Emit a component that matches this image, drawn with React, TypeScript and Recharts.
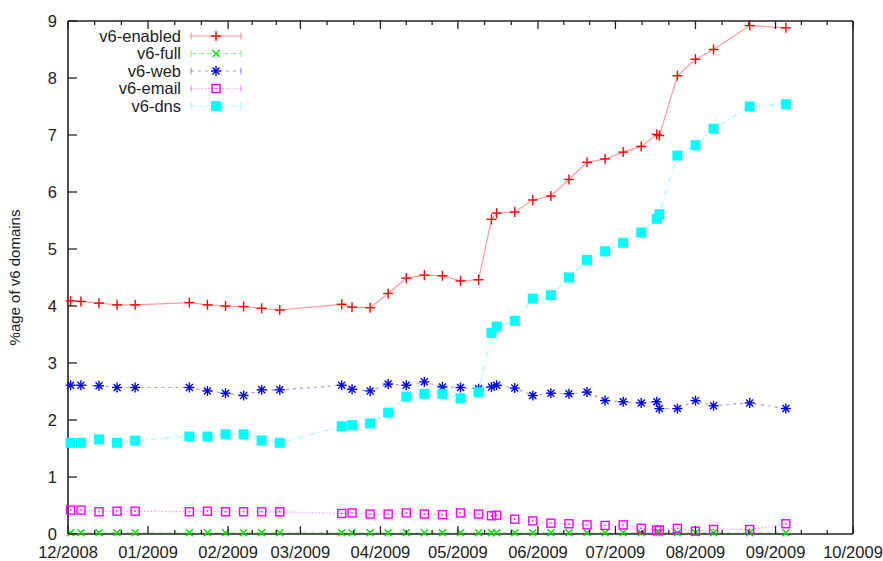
import React from 'react';
import { LineChart, Line, XAxis, YAxis } from 'recharts';

// sample dates (one point per crawl)
const dates = [
  '2008-12-02', '2008-12-06', '2008-12-13', '2008-12-20', '2008-12-27',
  '2009-01-17', '2009-01-24', '2009-01-31', '2009-02-07', '2009-02-14', '2009-02-21',
  '2009-03-17', '2009-03-21', '2009-03-28', '2009-04-04', '2009-04-11', '2009-04-18', '2009-04-25',
  '2009-05-02', '2009-05-09', '2009-05-14', '2009-05-16', '2009-05-23', '2009-05-30',
  '2009-06-06', '2009-06-13', '2009-06-20', '2009-06-27',
  '2009-07-04', '2009-07-11', '2009-07-17', '2009-07-18', '2009-07-25',
  '2009-08-01', '2009-08-08', '2009-08-22', '2009-09-05',
];

const v6Enabled = [
  4.09, 4.08, 4.05, 4.02, 4.02, 4.06, 4.02, 4.0, 3.99, 3.96, 3.93,
  4.03, 3.98, 3.97, 4.22, 4.49, 4.54, 4.53, 4.44, 4.46, 5.52, 5.63, 5.65, 5.86,
  5.93, 6.22, 6.52, 6.58, 6.7, 6.8, 7.01, 6.99, 8.04, 8.33, 8.5, 8.92, 8.88,
];
const v6Full = [
  0.02, 0.02, 0.02, 0.02, 0.02, 0.02, 0.02, 0.02, 0.02, 0.02, 0.02,
  0.02, 0.02, 0.02, 0.02, 0.02, 0.02, 0.02, 0.02, 0.02, 0.02, 0.02, 0.02, 0.02,
  0.02, 0.02, 0.02, 0.02, 0.02, 0.02, 0.02, 0.02, 0.02, 0.02, 0.02, 0.02, 0.02,
];
const v6Web = [
  2.61, 2.61, 2.6, 2.57, 2.57, 2.57, 2.51, 2.47, 2.43, 2.53, 2.53,
  2.61, 2.54, 2.51, 2.63, 2.61, 2.67, 2.58, 2.57, 2.55, 2.58, 2.61, 2.56, 2.43,
  2.47, 2.46, 2.49, 2.34, 2.32, 2.3, 2.32, 2.2, 2.2, 2.34, 2.25, 2.3, 2.2,
];
const v6Email = [
  0.42, 0.42, 0.39, 0.4, 0.4, 0.39, 0.4, 0.39, 0.39, 0.39, 0.39,
  0.36, 0.37, 0.35, 0.35, 0.37, 0.35, 0.34, 0.37, 0.35, 0.32, 0.33, 0.26, 0.23,
  0.19, 0.18, 0.16, 0.15, 0.16, 0.1, 0.07, 0.07, 0.1, 0.05, 0.08, 0.08, 0.18,
];
const v6Dns = [
  1.6, 1.6, 1.66, 1.6, 1.64, 1.71, 1.71, 1.75, 1.75, 1.64, 1.6,
  1.89, 1.91, 1.94, 2.13, 2.41, 2.46, 2.46, 2.38, 2.49, 3.53, 3.64, 3.74, 4.13,
  4.19, 4.5, 4.81, 4.96, 5.11, 5.29, 5.53, 5.61, 6.64, 6.82, 7.11, 7.5, 7.54,
];

const monthTicks = [
  '2008-12-01', '2009-01-01', '2009-02-01', '2009-03-01', '2009-04-01', '2009-05-01',
  '2009-06-01', '2009-07-01', '2009-08-01', '2009-09-01', '2009-10-01',
];
const yTicks = [0, 1, 2, 3, 4, 5, 6, 7, 8, 9];

const ts = (d: string) => Date.parse(d + 'T00:00:00Z');

const data = dates.map((d, i) => ({
  t: ts(d),
  enabled: v6Enabled[i],
  full: v6Full[i],
  web: v6Web[i],
  email: v6Email[i],
  dns: v6Dns[i],
}));

const majors = monthTicks.map(ts);
const xTicks: number[] = [];
majors.forEach((m, i) => {
  xTicks.push(m);
  if (i < majors.length - 1) {
    const step = (majors[i + 1] - m) / 3;
    xTicks.push(m + step, m + 2 * step);
  }
});

const INK = '#222';
const FONT = '"Liberation Sans", Arial, sans-serif';

const fmtMonth = (v: number) => {
  const d = new Date(v);
  const mm = String(d.getUTCMonth() + 1).padStart(2, '0');
  return `${mm}/${d.getUTCFullYear()}`;
};

type Kind = 'plus' | 'cross' | 'star' | 'box' | 'fbox';

function Marker({ cx, cy, kind, color }: { cx: number; cy: number; kind: Kind; color: string }) {
  if (cx == null || cy == null) return null;
  const w = 1.4;
  if (kind === 'plus') {
    return (
      <g stroke={color} strokeWidth={w}>
        <line x1={cx - 5} x2={cx + 5} y1={cy} y2={cy} />
        <line x1={cx} x2={cx} y1={cy - 5} y2={cy + 5} />
      </g>
    );
  }
  if (kind === 'cross') {
    return (
      <g stroke={color} strokeWidth={w}>
        <line x1={cx - 3.5} x2={cx + 3.5} y1={cy - 3.5} y2={cy + 3.5} />
        <line x1={cx - 3.5} x2={cx + 3.5} y1={cy + 3.5} y2={cy - 3.5} />
      </g>
    );
  }
  if (kind === 'star') {
    return (
      <g stroke={color} strokeWidth={w}>
        <line x1={cx - 5} x2={cx + 5} y1={cy} y2={cy} />
        <line x1={cx} x2={cx} y1={cy - 5} y2={cy + 5} />
        <line x1={cx - 3.5} x2={cx + 3.5} y1={cy - 3.5} y2={cy + 3.5} />
        <line x1={cx - 3.5} x2={cx + 3.5} y1={cy + 3.5} y2={cy - 3.5} />
      </g>
    );
  }
  if (kind === 'box') {
    return (
      <g>
        <rect x={cx - 4} y={cy - 4} width={8} height={8} fill="none" stroke={color} strokeWidth={w} />
        <rect x={cx - 0.7} y={cy - 0.7} width={1.4} height={1.4} fill={color} />
      </g>
    );
  }
  return <rect x={cx - 5} y={cy - 5} width={10} height={10} fill={color} />;
}

const series = [
  { key: 'enabled', name: 'v6-enabled', color: '#ff0000', kind: 'plus' as Kind, dash: undefined },
  { key: 'full', name: 'v6-full', color: '#00e000', kind: 'cross' as Kind, dash: '5 3' },
  { key: 'web', name: 'v6-web', color: '#0000ff', kind: 'star' as Kind, dash: '3 4' },
  { key: 'email', name: 'v6-email', color: '#ff00ff', kind: 'box' as Kind, dash: '1.5 2' },
  { key: 'dns', name: 'v6-dns', color: '#00ffff', kind: 'fbox' as Kind, dash: '6 3 1.5 3' },
];

const BottomTick = (props: any) => {
  const { x, y, payload } = props;
  const major = majors.includes(payload.value);
  return (
    <g>
      <line x1={x} x2={x} y1={y} y2={y - (major ? 8 : 4)} stroke={INK} strokeWidth={1.3} />
      {major && (
        <text x={x} y={y + 24} textAnchor="middle" fontSize={16.5} fill={INK} fontFamily={FONT}>
          {fmtMonth(payload.value)}
        </text>
      )}
    </g>
  );
};

const TopTick = (props: any) => {
  const { x, y, payload } = props;
  const major = majors.includes(payload.value);
  return <line x1={x} x2={x} y1={y} y2={y + (major ? 8 : 4)} stroke={INK} strokeWidth={1.3} />;
};

const LeftTick = (props: any) => {
  const { x, y, payload } = props;
  return (
    <g>
      <line x1={x} x2={x + 9} y1={y} y2={y} stroke={INK} strokeWidth={1.3} />
      <text x={x - 11} y={y} dy="0.36em" textAnchor="end" fontSize={16.5} fill={INK} fontFamily={FONT}>
        {payload.value}
      </text>
    </g>
  );
};

const RightTick = (props: any) => {
  const { x, y } = props;
  return <line x1={x} x2={x - 9} y1={y} y2={y} stroke={INK} strokeWidth={1.3} />;
};

const KeyBox = () => (
  <svg width={260} height={120} style={{ display: 'block' }}>
    {series.map((s, i) => {
      const cy = 36 + i * 17.5;
      return (
        <g key={s.key}>
          <text x={181} y={cy} dy="0.36em" textAnchor="end" fontSize={16.5} fill={INK} fontFamily={FONT}>
            {s.name}
          </text>
          <g stroke={s.color} strokeOpacity={0.4} strokeWidth={1.2}>
            <line x1={191} x2={241} y1={cy} y2={cy} strokeDasharray={s.dash} />
            <line x1={191} x2={191} y1={cy - 3.5} y2={cy + 3.5} />
            <line x1={241} x2={241} y1={cy - 3.5} y2={cy + 3.5} />
          </g>
          <Marker cx={216} cy={cy} kind={s.kind} color={s.color} />
        </g>
      );
    })}
  </svg>
);

export default function App() {
  return (
    <div style={{ position: 'absolute', left: 0, top: 0, width: 883, height: 561, background: '#fff', fontFamily: FONT }}>
      <LineChart width={883} height={561} data={data} margin={{ top: 0, right: 0, bottom: 0, left: 0 }}>
        <XAxis
          dataKey="t"
          type="number"
          scale="time"
          domain={[majors[0], majors[majors.length - 1]]}
          ticks={xTicks}
          interval={0}
          height={27}
          tickSize={0}
          tickMargin={0}
          tickLine={false}
          tick={<BottomTick />}
          axisLine={{ stroke: INK, strokeWidth: 1.6 }}
        />
        <XAxis
          xAxisId="top"
          orientation="top"
          dataKey="t"
          type="number"
          scale="time"
          domain={[majors[0], majors[majors.length - 1]]}
          ticks={xTicks}
          interval={0}
          height={21}
          tickSize={0}
          tickMargin={0}
          tickLine={false}
          tick={<TopTick />}
          axisLine={{ stroke: INK, strokeWidth: 1.6 }}
        />
        <YAxis
          domain={[0, 9]}
          ticks={yTicks}
          interval={0}
          width={68}
          tickSize={0}
          tickMargin={0}
          tickLine={false}
          tick={<LeftTick />}
          axisLine={{ stroke: INK, strokeWidth: 1.6 }}
          label={{
            value: '%age of v6 domains',
            angle: -90,
            position: 'insideLeft',
            dx: 10,
            style: { textAnchor: 'middle', fontSize: 15, fill: INK, fontFamily: FONT },
          }}
        />
        <YAxis
          yAxisId="right"
          orientation="right"
          domain={[0, 9]}
          ticks={yTicks}
          interval={0}
          width={30}
          tickSize={0}
          tickMargin={0}
          tickLine={false}
          tick={<RightTick />}
          axisLine={{ stroke: INK, strokeWidth: 1.6 }}
        />
        {series.map((s) => (
          <Line
            key={s.key}
            dataKey={s.key}
            name={s.name}
            type="linear"
            stroke={s.color}
            strokeOpacity={0.4}
            strokeWidth={1.2}
            strokeDasharray={s.dash}
            isAnimationActive={false}
            activeDot={false}
            dot={(p: any) => <Marker key={`${s.key}-${p.index}`} cx={p.cx} cy={p.cy} kind={s.kind} color={s.color} />}
          />
        ))}
      </LineChart>
      <div style={{ position: 'absolute', left: 0, top: 0 }}>
        <KeyBox />
      </div>
    </div>
  );
}
